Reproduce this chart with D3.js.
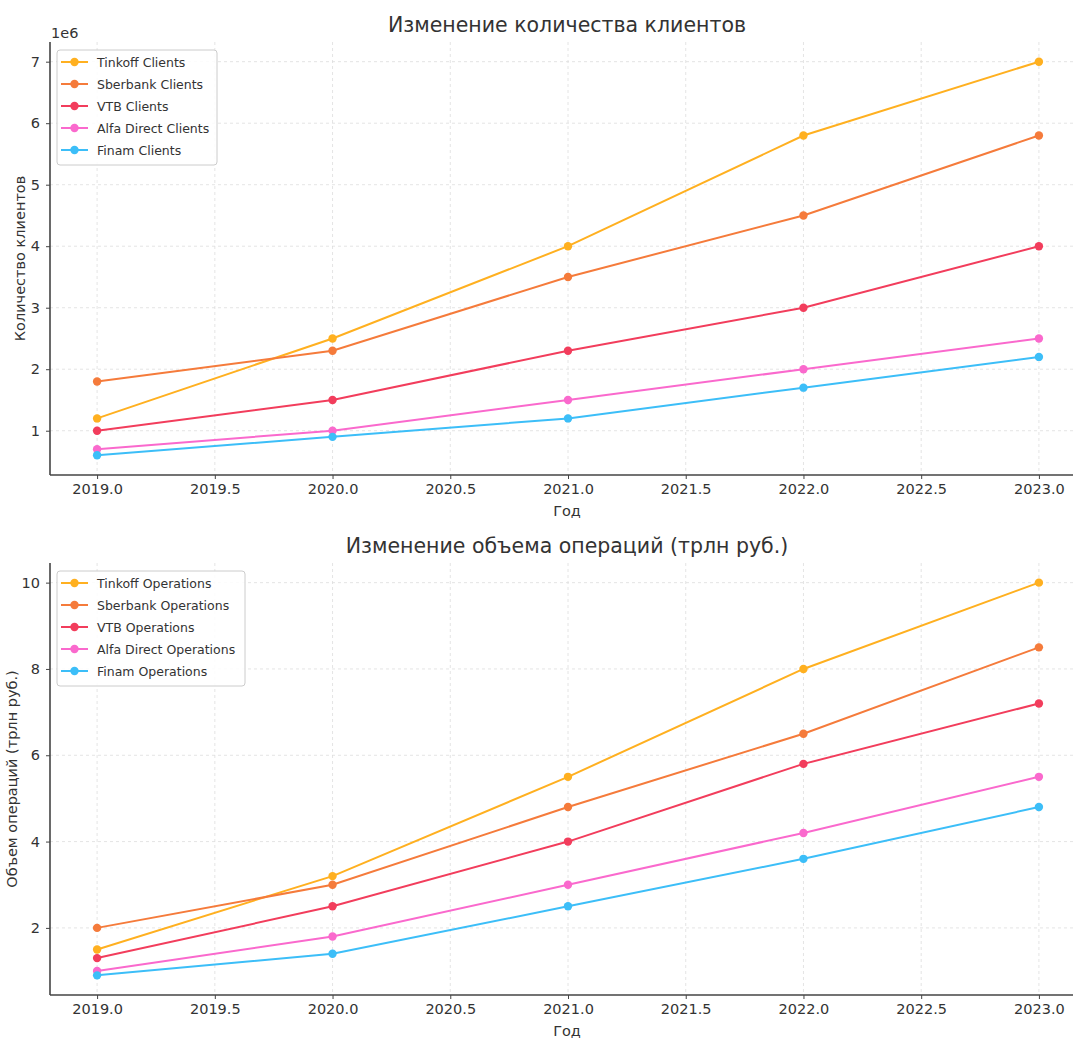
<!DOCTYPE html>
<html>
<head>
<meta charset="utf-8">
<script src="https://cdn.jsdelivr.net/npm/d3@7"></script>
<style>
  body { margin: 0; background: #fff; }
  text { font-family: "DejaVu Sans", sans-serif; fill: #333; }
</style>
</head>
<body>
<svg width="1073" height="1041"></svg>
<script>
var years = [2019, 2020, 2021, 2022, 2023];
var banks = ["Tinkoff", "Sberbank", "VTB", "Alfa Direct", "Finam"];
var colors = ["#ffb020", "#f57b3b", "#f23d5c", "#fa69cd", "#3cbef8"];

// clients, millions
var tinkoffClients = [1.2, 2.5, 4.0, 5.8, 7.0];
var sberClients = [1.8, 2.3, 3.5, 4.5, 5.8];
var vtbClients = [1.0, 1.5, 2.3, 3.0, 4.0];
var alfaClients = [0.7, 1.0, 1.5, 2.0, 2.5];
var finamClients = [0.6, 0.9, 1.2, 1.7, 2.2];

// operations, trillion rub
var tinkoffOps = [1.5, 3.2, 5.5, 8.0, 10.0];
var sberOps = [2.0, 3.0, 4.8, 6.5, 8.5];
var vtbOps = [1.3, 2.5, 4.0, 5.8, 7.2];
var alfaOps = [1.0, 1.8, 3.0, 4.2, 5.5];
var finamOps = [0.9, 1.4, 2.5, 3.6, 4.8];

var xTicks = [2019.0, 2019.5, 2020.0, 2020.5, 2021.0, 2021.5, 2022.0, 2022.5, 2023.0];

var svg = d3.select("svg");

var drawPanel = function(opt)
{
  var x = d3.scaleLinear().domain([2018.8, 2023.2]).range([50, 1086]);
  var y = d3.scaleLinear().domain(opt.ydomain).range([opt.bottom, opt.top]);
  var g = svg.append("g");

  // grid
  g.selectAll(".gx").data(xTicks).enter().append("line")
    .attr("x1", function(d){ return x(d); }).attr("x2", function(d){ return x(d); })
    .attr("y1", opt.top).attr("y2", opt.bottom)
    .attr("stroke", "#ddd").attr("stroke-dasharray", "3,3").attr("stroke-width", 0.8);
  g.selectAll(".gy").data(opt.yticks).enter().append("line")
    .attr("x1", 50).attr("x2", 1073)
    .attr("y1", function(d){ return y(d); }).attr("y2", function(d){ return y(d); })
    .attr("stroke", "#ddd").attr("stroke-dasharray", "3,3").attr("stroke-width", 0.8);

  // axes
  var xAxis = g.append("g").attr("transform", "translate(0," + opt.bottom + ")")
    .call(d3.axisBottom(x).tickValues(xTicks).tickFormat(d3.format(".1f")).tickSizeOuter(0).tickSize(4).tickPadding(5));
  var yAxis = g.append("g").attr("transform", "translate(50,0)")
    .call(d3.axisLeft(y).tickValues(opt.yticks).tickFormat(d3.format("d")).tickSizeOuter(0).tickSize(4).tickPadding(6));
  [xAxis, yAxis].forEach(function(a)
  {
    a.select(".domain").remove();
    a.selectAll(".tick line").attr("stroke", "#444");
    a.selectAll(".tick text").style("font-size", "14.5px").attr("fill", "#333");
  });
  // spines (left + bottom only)
  g.append("line").attr("x1", 50).attr("x2", 50).attr("y1", opt.top).attr("y2", opt.bottom)
    .attr("stroke", "#444").attr("stroke-width", 1.6);
  g.append("line").attr("x1", 50).attr("x2", 1073).attr("y1", opt.bottom).attr("y2", opt.bottom)
    .attr("stroke", "#444").attr("stroke-width", 1.6);

  // lines
  var line = d3.line().x(function(d, i){ return x(years[i]); }).y(function(d){ return y(d); });
  opt.series.forEach(function(s, k)
  {
    g.append("path").datum(s).attr("d", line)
      .attr("fill", "none").attr("stroke", colors[k]).attr("stroke-width", 2);
    g.selectAll(".pt" + k).data(s).enter().append("circle")
      .attr("cx", function(d, i){ return x(years[i]); })
      .attr("cy", function(d){ return y(d); })
      .attr("r", 4.2).attr("fill", colors[k]);
  });

  // titles
  svg.append("text").attr("x", 567).attr("y", opt.titleY).attr("text-anchor", "middle")
    .style("font-size", "20.5px").text(opt.title);
  svg.append("text").attr("x", 567).attr("y", opt.bottom + 41).attr("text-anchor", "middle")
    .style("font-size", "14.5px").text("Год");
  svg.append("text").attr("transform", "translate(" + opt.ylabX + "," + ((opt.top + opt.bottom) / 2) + ") rotate(-90)")
    .attr("text-anchor", "middle").style("font-size", "14.5px").text(opt.ylabel);

  // legend
  var lg = g.append("g");
  lg.append("rect").attr("x", 57).attr("y", opt.top + 8).attr("width", opt.legendW).attr("height", 115)
    .attr("rx", 3).attr("fill", "#fff").attr("fill-opacity", 0.85).attr("stroke", "#ccc");
  banks.forEach(function(b, k)
  {
    var yy = opt.top + 20 + k * 22;
    lg.append("line").attr("x1", 61).attr("x2", 88).attr("y1", yy).attr("y2", yy)
      .attr("stroke", colors[k]).attr("stroke-width", 2);
    lg.append("circle").attr("cx", 74.5).attr("cy", yy).attr("r", 4.2).attr("fill", colors[k]);
    lg.append("text").attr("x", 97).attr("y", yy + 4.5).style("font-size", "12.5px")
      .text(b + opt.suffix);
  });
};

drawPanel({
  top: 42, bottom: 475, ydomain: [0.28, 7.32], yticks: [1, 2, 3, 4, 5, 6, 7],
  series: [tinkoffClients, sberClients, vtbClients, alfaClients, finamClients],
  title: "Изменение количества клиентов", titleY: 32,
  ylabel: "Количество клиентов", ylabX: 25, suffix: " Clients", legendW: 160
});
svg.append("text").attr("x", 51).attr("y", 38).style("font-size", "14.5px").text("1e6");

drawPanel({
  top: 563, bottom: 995, ydomain: [0.445, 10.455], yticks: [2, 4, 6, 8, 10],
  series: [tinkoffOps, sberOps, vtbOps, alfaOps, finamOps],
  title: "Изменение объема операций (трлн руб.)", titleY: 553,
  ylabel: "Объем операций (трлн руб.)", ylabX: 17, suffix: " Operations", legendW: 188
});
</script>
</body>
</html>
